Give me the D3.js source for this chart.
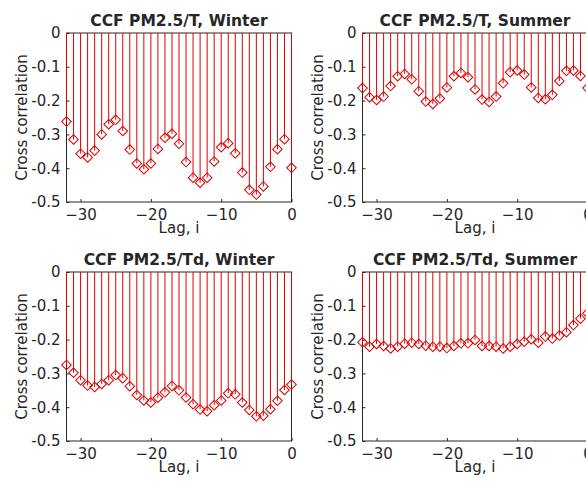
<!DOCTYPE html>
<html>
<head>
<meta charset="utf-8">
<script src="https://cdn.jsdelivr.net/npm/d3@7"></script>
<style>
    body { margin: 0; background: #fff; }
    svg text { font-family: "DejaVu Sans", sans-serif; fill: #262626; }
</style>
</head>
<body>
<svg id="chart" width="586" height="484"></svg>
<script>
// lags -32 .. 0
const lags = d3.range(-32, 1);

const winterT = [-0.262, -0.315, -0.357, -0.368, -0.348, -0.300, -0.270, -0.257, -0.290, -0.345,
    -0.386, -0.403, -0.386, -0.343, -0.310, -0.298, -0.328, -0.382, -0.428, -0.443,
    -0.428, -0.380, -0.338, -0.326, -0.356, -0.413, -0.464, -0.478, -0.454, -0.396,
    -0.344, -0.314, -0.399];

const summerT = [-0.163, -0.190, -0.198, -0.188, -0.157, -0.128, -0.121, -0.137, -0.172, -0.203,
    -0.210, -0.194, -0.161, -0.128, -0.118, -0.131, -0.167, -0.197, -0.204, -0.188,
    -0.149, -0.116, -0.111, -0.123, -0.161, -0.192, -0.196, -0.183, -0.142, -0.112,
    -0.111, -0.127, -0.163];

const winterTd = [-0.275, -0.298, -0.320, -0.336, -0.340, -0.331, -0.320, -0.305, -0.314, -0.338,
    -0.364, -0.380, -0.386, -0.372, -0.356, -0.337, -0.350, -0.371, -0.391, -0.407,
    -0.412, -0.394, -0.380, -0.359, -0.362, -0.386, -0.408, -0.427, -0.425, -0.406,
    -0.381, -0.349, -0.333];

const summerTd = [-0.208, -0.221, -0.213, -0.219, -0.226, -0.221, -0.212, -0.209, -0.213, -0.218,
    -0.221, -0.221, -0.225, -0.219, -0.211, -0.211, -0.201, -0.219, -0.219, -0.221,
    -0.226, -0.221, -0.213, -0.206, -0.199, -0.209, -0.191, -0.197, -0.188, -0.178,
    -0.157, -0.138, -0.122];

const titles = ["CCF PM2.5/T, Winter", "CCF PM2.5/T, Summer", "CCF PM2.5/Td, Winter", "CCF PM2.5/Td, Summer"];
const xTicks = [-30, -20, -10, 0];
const yTicks = [0, -0.1, -0.2, -0.3, -0.4, -0.5];

const panels = [
    {title: titles[0], values: winterT, left: 66.5, top: 33},
    {title: titles[1], values: summerT, left: 362.5, top: 33},
    {title: titles[2], values: winterTd, left: 66.5, top: 272},
    {title: titles[3], values: summerTd, left: 362.5, top: 272}
];

const W = 225, H = 169;
const red = "#dd0000";
const svg = d3.select("#chart");

panels.forEach(p => {
    const x = d3.scaleLinear().domain([-32, 0]).range([0, W]);
    const y = d3.scaleLinear().domain([-0.5, 0]).range([H, 0]);

    const g = svg.append("g").attr("transform", `translate(${p.left},${p.top})`);

    // axes box
    g.append("rect")
        .attr("width", W).attr("height", H)
        .attr("fill", "none").attr("stroke", "#262626").attr("stroke-width", 1);

    // x axis (ticks inward)
    const xa = g.append("g").attr("transform", `translate(0,${H})`)
        .call(d3.axisBottom(x).tickValues(xTicks).tickSizeInner(-3).tickSizeOuter(0).tickPadding(7));
    xa.select(".domain").remove();
    xa.selectAll("line").attr("stroke", "#262626");
    xa.selectAll("text").style("font-size", "15px").attr("fill", "#262626");

    const ya = g.append("g")
        .call(d3.axisLeft(y).tickValues(yTicks).tickSizeInner(-3).tickSizeOuter(0).tickPadding(6)
            .tickFormat(d => d === 0 ? "0" : d3.format(".1f")(d).replace("−", "-")));
    ya.select(".domain").remove();
    ya.selectAll("line").attr("stroke", "#262626");
    ya.selectAll("text").style("font-size", "15px").attr("fill", "#262626");

    // stems
    const pts = lags.map((l, i) => ({lag: l, v: p.values[i]}));
    g.selectAll(".stem").data(pts).enter().append("line")
        .attr("class", "stem")
        .attr("x1", d => x(d.lag)).attr("x2", d => x(d.lag))
        .attr("y1", y(0)).attr("y2", d => y(d.v))
        .attr("stroke", red).attr("stroke-width", 1);

    const dia = d3.symbol().type(d3.symbolSquare).size(46);
    g.selectAll(".mk").data(pts).enter().append("path")
        .attr("class", "mk")
        .attr("d", dia)
        .attr("transform", d => `translate(${x(d.lag)},${y(d.v)}) rotate(45)`)
        .attr("fill", "none").attr("stroke", red).attr("stroke-width", 1);

    // title
    g.append("text")
        .attr("x", W / 2).attr("y", -7)
        .attr("text-anchor", "middle")
        .style("font-size", "15.5px").style("font-weight", "bold")
        .attr("fill", "#000")
        .text(p.title);

    // labels
    g.append("text")
        .attr("x", W / 2).attr("y", H + 31)
        .attr("text-anchor", "middle")
        .style("font-size", "15px")
        .text("Lag, i");

    g.append("text")
        .attr("transform", `translate(-40,${H / 2}) rotate(-90)`)
        .attr("text-anchor", "middle")
        .style("font-size", "15px")
        .text("Cross correlation");
});
</script>
</body>
</html>
